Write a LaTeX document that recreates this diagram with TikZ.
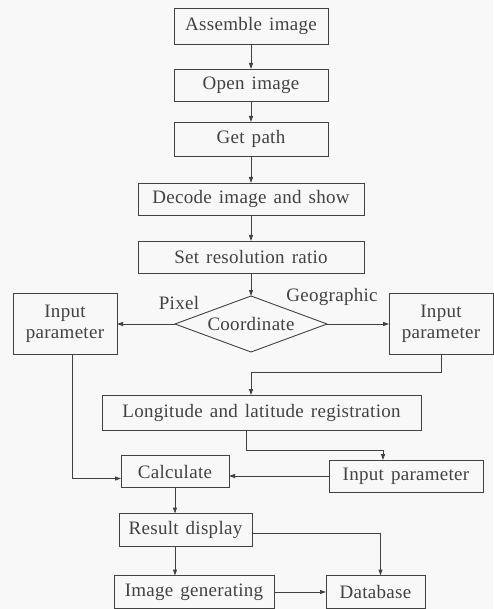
\documentclass[tikz,border=0pt]{standalone}
\usepackage{fontspec}
\setmainfont{Liberation Serif}[WordSpace=1.4,LetterSpace=1.5]
\usepackage{tikz}
\usetikzlibrary{arrows.meta,positioning,shapes.geometric}
\definecolor{ink}{RGB}{66,66,66}
\definecolor{paper}{RGB}{248,248,248}
\tikzset{
  stepbox/.style={draw=ink, text=ink, line width=0.9pt, align=center, outer sep=0pt,
    minimum height=32pt, inner sep=2pt, font=\fontsize{19pt}{21pt}\selectfont},
  decision/.style={diamond, aspect=2.7, draw=ink, text=ink, line width=0.9pt, inner sep=0pt,
    outer sep=0pt, minimum width=152pt, minimum height=56pt, font=\fontsize{19pt}{21pt}\selectfont},
  flow/.style={-{Triangle[length=6pt,width=4pt]}, draw=ink, line width=0.9pt},
  lbl/.style={text=ink, font=\fontsize{19pt}{21pt}\selectfont}
}

\begin{document}
\begin{tikzpicture}[node distance=25pt and 58pt]
\fill[paper] (0,0) rectangle (493pt,-609pt);
\useasboundingbox (0,0) rectangle (493pt,-609pt);

\node[stepbox, minimum width=154pt, minimum height=36pt] (asm) at (251pt,-26pt) {Assemble image};
\node[stepbox, minimum width=154pt, below=25pt of asm] (open) {Open image};
\node[stepbox, minimum width=154pt, minimum height=34pt, below=21pt of open] (path) {Get path};
\node[stepbox, minimum width=226pt, below=27pt of path] (decode) {Decode image and show};
\node[stepbox, minimum width=226pt, below=26pt of decode] (setres) {Set resolution ratio};
\node[decision, below=23pt of setres] (coord) {Coordinate};
\node[stepbox, minimum width=104pt, minimum height=61pt, left=58pt of coord] (inL) {Input\\parameter};
\node[stepbox, minimum width=104pt, minimum height=61pt, right=62pt of coord] (inR) {Input\\parameter};
\node[stepbox, minimum width=319pt, minimum height=35pt, below=43pt of coord, xshift=10.5pt] (lonlat) {Longitude and latitude registration};
\node[stepbox, minimum width=154pt, below=30pt of lonlat, xshift=144.5pt] (inB) {Input parameter};
\node[stepbox, minimum width=108pt, left=100pt of inB, yshift=4.5pt] (calc) {Calculate};
\node[stepbox, minimum width=133pt, minimum height=33pt, below=26pt of calc, xshift=10.5pt] (result) {Result display};
\node[stepbox, minimum width=160pt, minimum height=33pt, below=29pt of result, xshift=8.5pt] (imggen) {Image generating};
\node[stepbox, minimum width=99pt, minimum height=33pt, right=52pt of imggen] (db) {Database};

% labels of the two branches
\node[lbl] (pix) at (179pt,-303pt) {Pixel};
\node[lbl] (geo) at (332pt,-297pt) {Geographic};

\draw[flow] (asm)--(open);
\draw[flow] (open)--(path);
\draw[flow] (path)--(decode);
\draw[flow] (decode)--(setres);
\draw[flow] (setres)--(coord);
\draw[flow] (coord.west)--(inL.east);
\draw[flow] (coord.east)--(inR.west);
\draw[flow] (inR.south)--++(0,-18pt)-|(coord |- lonlat.north);
\draw[flow] ([xshift=-15pt]lonlat.south)--++(0,-20pt)-|([xshift=-23pt]inB.north);
\draw[flow] (inB.west)--(inB.west -| calc.east);
\draw[flow] ([xshift=7pt]inL.south)|-([yshift=-7pt]calc.west);
\draw[flow] (calc)--(calc |- result.north);
\draw[flow] (calc |- result.south)--(calc |- imggen.north);
\draw[flow] ([yshift=-3pt]result.east)-|([xshift=5pt]db.north);
\draw[flow] (imggen)--(db);
\end{tikzpicture}
\end{document}
